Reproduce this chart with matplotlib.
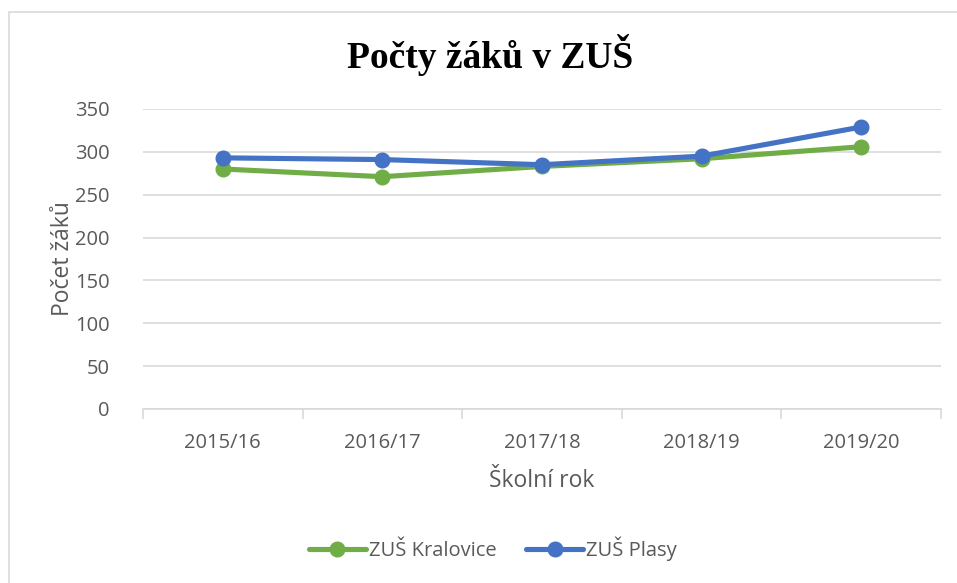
import matplotlib.pyplot as plt
import matplotlib.patches as patches
import numpy as np

# data
years = ["2015/16", "2016/17", "2017/18", "2018/19", "2019/20"]
kralovice = [280, 271, 283, 292, 306]
plasy = [293, 291, 285, 295, 329]
y_ticks = [0, 50, 100, 150, 200, 250, 300, 350]

GREEN = "#70AD47"
BLUE = "#4472C4"
TEXT = "#595959"
GRID = "#D9D9D9"

plt.rcParams["font.family"] = ["Open Sans", "DejaVu Sans"]

fig = plt.figure(figsize=(9.57, 5.83), dpi=100)
# chart border (only left/top visible in the crop)
fig.add_artist(patches.Rectangle((9 / 957, -0.1), 1.2, 1 - 12 / 583 + 0.1,
                                 transform=fig.transFigure, fill=False,
                                 edgecolor=GRID, linewidth=1.2))

ax = fig.add_axes([143 / 957, 1 - 409 / 583, (941 - 143) / 957, 300 / 583])
x = np.arange(len(years))

ax.plot(x, kralovice, color=GREEN, linewidth=3.7, marker="o", markersize=10.5,
        solid_capstyle="round", label="ZUŠ Kralovice", zorder=3)
ax.plot(x, plasy, color=BLUE, linewidth=3.7, marker="o", markersize=10.5,
        solid_capstyle="round", label="ZUŠ Plasy", zorder=4)

ax.set_xlim(-0.5, len(years) - 0.5)
ax.set_ylim(0, 350)
ax.set_yticks(y_ticks)
ax.yaxis.grid(True, color=GRID, linewidth=1.2)
ax.set_axisbelow(True)

ax.set_xticks(x)
ax.set_xticklabels(years)
ax.set_xticks(np.arange(len(years) + 1) - 0.5, minor=True)
ax.tick_params(axis="x", which="major", length=0, pad=17, labelsize=14.5, labelcolor=TEXT)
ax.tick_params(axis="x", which="minor", length=7, width=1.2, color=GRID)
ax.tick_params(axis="y", length=0, pad=24, labelsize=14.5, labelcolor=TEXT)

for side in ("top", "right", "left"):
    ax.spines[side].set_visible(False)
ax.spines["bottom"].set_color(GRID)
ax.spines["bottom"].set_linewidth(1.2)

ax.set_xlabel("Školní rok", fontsize=16.5, color=TEXT, labelpad=12)
ax.set_ylabel("Počet žáků", fontsize=16.5, color=TEXT, labelpad=0)

fig.text(490 / 957, 1 - 55 / 583, "Počty žáků v ZUŠ", ha="center", va="center",
         fontsize=27, fontweight="bold", family=["Liberation Serif", "DejaVu Serif"])

fig.legend(loc="center", bbox_to_anchor=(0.515, 1 - 549 / 583), ncol=2,
           frameon=False, fontsize=14.5, labelcolor=TEXT, handlelength=2.8,
           handletextpad=0.15, columnspacing=1.5)

fig.savefig("out.png", dpi=100)
